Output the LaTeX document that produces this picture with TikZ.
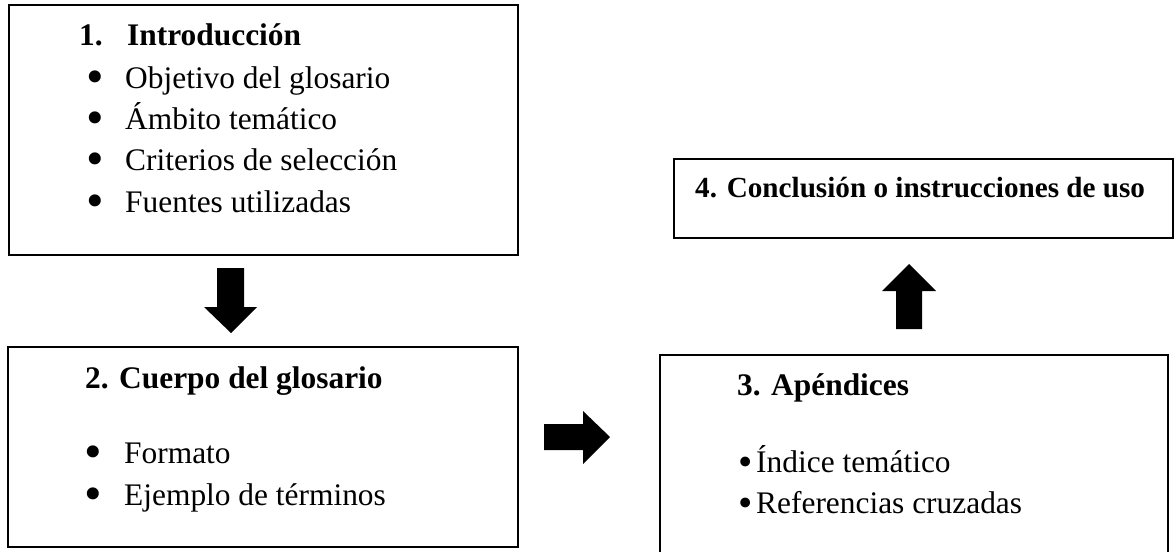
\documentclass[tikz,border=0pt]{standalone}
\usepackage{fontspec}
\setmainfont{Liberation Serif}
\tikzset{
  box/.style={line width=1.9pt},
  txt/.style={anchor=base west,inner sep=0pt,font=\fontsize{26.8}{32}\selectfont},
  dot/.style={anchor=base,inner sep=0pt,font=\fontsize{26.8}{32}\selectfont},
  blockarrow/.style={fill=black,draw=none}
}
\newcommand{\bigdot}{\smash{\scalebox{1.6}{\textbullet}}}
\newcommand{\smalldot}{\smash{\scalebox{1.3}{\textbullet}}}

\begin{document}
\begin{tikzpicture}[x=0.03cm,y=-0.03cm]
\useasboundingbox (0,0) rectangle (1175,551);

%% boxes
\draw [box] (9,5) rectangle (518,255);     % introduccion
\draw [box] (8,347) rectangle (518,547);   % cuerpo
\draw [box] (660,355) rectangle (1168,560); % apendices
\draw [box] (674,159) rectangle (1173,238); % conclusion

%% block arrows
% down, from 1 to 2
\fill [blockarrow] (217,268) -- (244,268) -- (244,307) -- (257,307) -- (231,333)
  -- (204,307) -- (217,307) -- cycle;
% right, from 2 to 3
\fill [blockarrow] (544,424) -- (583,424) -- (583,411) -- (610,437) -- (583,464)
  -- (583,450) -- (544,450) -- cycle;
% up, from 3 to 4
\fill [blockarrow] (896,329) -- (922,329) -- (922,291) -- (936,291) -- (909,264)
  -- (882,291) -- (896,291) -- cycle;

%% texts
% box 1
\node [txt] (num1) at (79,45) {\textbf{1.}};
\node [txt] (intro) at (127,45) {\textbf{Introducción}};
\node [dot] (b11) at (95,93)  {\bigdot};
\node [dot] (b12) at (95,134) {\bigdot};
\node [dot] (b13) at (95,175) {\bigdot};
\node [dot] (b14) at (95,217) {\bigdot};
\node [txt] (objetivo) at (125,88)  {Objetivo del glosario};
\node [txt] (ambito)   at (125,129) {Ámbito temático};
\node [txt] (criterio) at (125,170) {Criterios de selección};
\node [txt] (fuentes)  at (125,212) {Fuentes utilizadas};
% box 2
\node [txt] (cuerpo) at (85,388) {\textbf{2. Cuerpo del glosario}};
\node [dot] (b21) at (93,468) {\bigdot};
\node [dot] (b22) at (93,510) {\bigdot};
\node [txt] (formato) at (124,463) {Formato};
\node [txt] (ejemplo) at (124,505) {Ejemplo de términos};
% box 3
\node [txt] (apendices) at (737,395) {\textbf{3. Apéndices}};
\node [dot] (b31) at (746,475) {\smalldot};
\node [dot] (b32) at (746,516) {\smalldot};
\node [txt] (indice) at (756,472) {Índice temático};
\node [txt] (refs)   at (756,513) {Referencias cruzadas};
% box 4
\node [txt,font=\fontsize{24.9}{30}\selectfont] (conclusion) at (695,197)
  {\textbf{4. Conclusión o instrucciones de uso}};

\end{tikzpicture}
\end{document}
